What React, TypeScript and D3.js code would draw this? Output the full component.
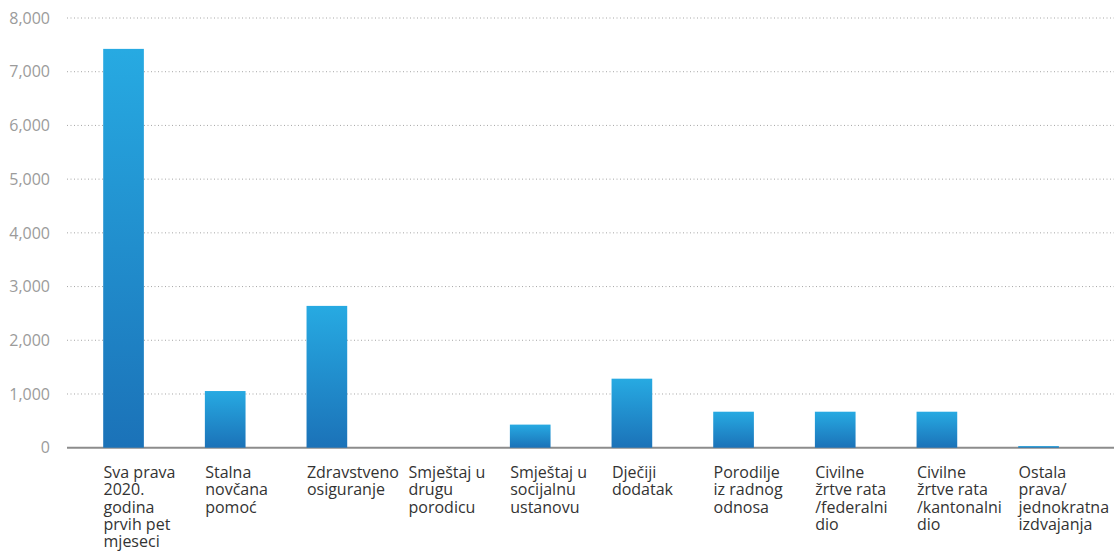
import React from "react";
import * as d3 from "d3";

const categories: string[][] = [
  ["Sva prava", "2020.", "godina", "prvih pet", "mjeseci"],
  ["Stalna", "novčana", "pomoć"],
  ["Zdravstveno", "osiguranje"],
  ["Smještaj u", "drugu", "porodicu"],
  ["Smještaj u", "socijalnu", "ustanovu"],
  ["Dječiji", "dodatak"],
  ["Porodilje", "iz radnog", "odnosa"],
  ["Civilne", "žrtve rata", "/federalni", "dio"],
  ["Civilne", "žrtve rata", "/kantonalni", "dio"],
  ["Ostala", "prava/", "jednokratna", "izdvajanja"],
];
const values: number[] = [7425, 1055, 2640, 0, 430, 1285, 670, 670, 670, 30];
const yTicks: number[] = [0, 1000, 2000, 3000, 4000, 5000, 6000, 7000, 8000];

const W = 1120;
const H = 557;
const plotLeft = 67;
const plotRight = 1114;
const y0 = 447.7;
const yTop = 18;

export default function App() {
  const ids = categories.map((_, i) => String(i));
  const x = d3
    .scaleBand<string>()
    .domain(ids)
    .range([72.7, 1089.4])
    .paddingInner(0.6)
    .paddingOuter(0.3);
  const y = d3.scaleLinear().domain([0, 8000]).range([y0, yTop]);
  const fmt = d3.format(",");
  const font = "'Open Sans', sans-serif";

  return (
    <svg
      width={W}
      height={H}
      style={{ position: "absolute", left: 0, top: 0, display: "block", background: "#fff" }}
    >
      <defs>
        <linearGradient id="barGrad" x1="0" y1="0" x2="0" y2="1">
          <stop offset="0%" stopColor="#27aae2" />
          <stop offset="100%" stopColor="#1b72b8" />
        </linearGradient>
      </defs>
      {yTicks.map((t) => (
        <g key={t}>
          {t > 0 && (
            <line
              x1={plotLeft}
              x2={plotRight}
              y1={y(t)}
              y2={y(t)}
              stroke="#a6a6a6"
              strokeWidth={1}
              strokeDasharray="1 2.5"
            />
          )}
          <text
            x={50}
            y={y(t)}
            dy="0.36em"
            textAnchor="end"
            fontFamily={font}
            fontSize={16}
            fill="#9b9b9b"
          >
            {fmt(t)}
          </text>
        </g>
      ))}
      <line x1={plotLeft} x2={plotRight} y1={y0} y2={y0} stroke="#8c8c8c" strokeWidth={2} />
      {values.map((v, i) =>
        v > 0 ? (
          <rect
            key={i}
            x={x(String(i))}
            y={y(v)}
            width={x.bandwidth()}
            height={y0 - y(v)}
            fill="url(#barGrad)"
          />
        ) : null
      )}
      {categories.map((lines, i) => {
        const cx = (x(String(i)) as number) + x.bandwidth() / 2;
        return (
          <text key={i} fontFamily={font} fontSize={16} fill="#333333">
            {lines.map((ln, j) => (
              <tspan key={j} x={cx - 20} y={478 + j * 17.3}>
                {ln}
              </tspan>
            ))}
          </text>
        );
      })}
    </svg>
  );
}
